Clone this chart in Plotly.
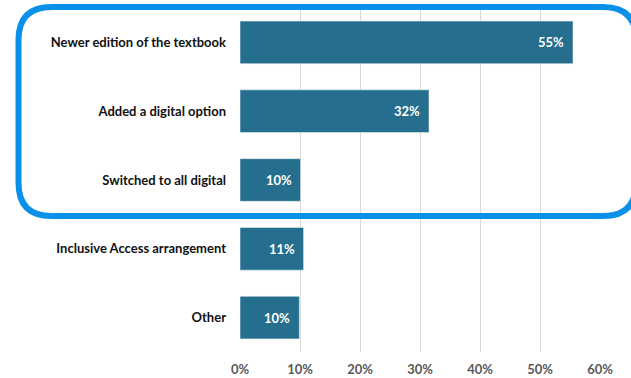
import plotly.graph_objects as go

categories = ["Newer edition of the textbook", "Added a digital option",
              "Switched to all digital", "Inclusive Access arrangement", "Other"]
values = [55.5, 31.5, 10.1, 10.6, 9.9]
labels = ["55%", "32%", "10%", "11%", "10%"]
tick_vals = [0, 10, 20, 30, 40, 50, 60]
tick_text = ["0%", "10%", "20%", "30%", "40%", "50%", "60%"]

W, H = 631, 378
L, R, T, B = 240, 31, 8, 26
FONT = "Lato"

fig = go.Figure()
fig.add_trace(go.Bar(
    x=values, y=categories, orientation="h",
    marker=dict(color="#266E8E", line=dict(color="#E4EEF2", width=0.6)),
    hoverinfo="skip",
))

for v, c, t in zip(values, categories, labels):
    fig.add_annotation(x=v, y=c, text=t, showarrow=False, xanchor="right",
                       xshift=-7, font=dict(family=FONT, size=13, color="white", weight="bold"))

# rounded highlight box (pixel geometry -> paper coords)
pw, ph = W - L - R, H - T - B
def px(xp): return (xp - L) / pw
def py(yp): return (H - B - yp) / ph
x0, x1, y0, y1, r = 18.5, 636, 7, 216, 33
path = (f"M {px(x0 + r)},{py(y0)} L {px(x1 - r)},{py(y0)} "
        f"Q {px(x1)},{py(y0)} {px(x1)},{py(y0 + r)} "
        f"L {px(x1)},{py(y1 - r)} Q {px(x1)},{py(y1)} {px(x1 - r)},{py(y1)} "
        f"L {px(x0 + r)},{py(y1)} Q {px(x0)},{py(y1)} {px(x0)},{py(y1 - r)} "
        f"L {px(x0)},{py(y0 + r)} Q {px(x0)},{py(y0)} {px(x0 + r)},{py(y0)} Z")
fig.add_shape(type="path", path=path, xref="paper", yref="paper",
              line=dict(color="#0A90E8", width=6), layer="above")

fig.update_layout(
    width=W, height=H,
    margin=dict(l=L, r=R, t=T, b=B, autoexpand=False),
    paper_bgcolor="white", plot_bgcolor="white",
    bargap=0.38, showlegend=False,
    xaxis=dict(range=[0, 60], tickvals=tick_vals, ticktext=tick_text,
               showgrid=True, gridcolor="#D9D9D9", gridwidth=1,
               zeroline=False, showline=False, ticks="", automargin=False,
               ticklabelstandoff=8,
               tickfont=dict(family=FONT, size=13, color="#595959", weight="bold")),
    yaxis=dict(categoryorder="array", categoryarray=categories[::-1],
               showgrid=False, zeroline=False, showline=False, ticks="", automargin=False,
               ticklabelstandoff=13,
               tickfont=dict(family=FONT, size=13, color="#111111", weight="bold")),
)
fig.write_html("out.html")
